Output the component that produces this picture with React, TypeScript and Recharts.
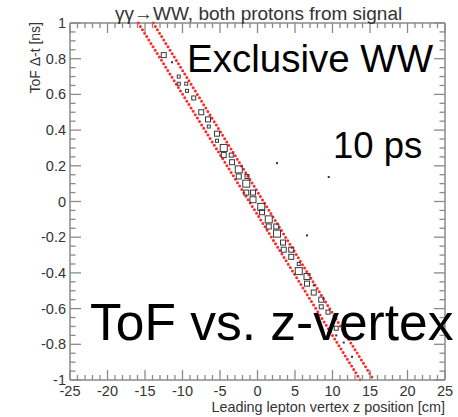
import { ScatterChart, Scatter, XAxis, YAxis, ReferenceLine } from "recharts";

// plot frame (pixels) – used for the ROOT-style inner ticks
const PL = 70;
const PR = 445;
const PT = 23;
const PB = 380;

const FONT = "'Liberation Sans', Arial, Helvetica, sans-serif";
const AXIS = "#8a8a8a";

// box histogram bins: z position [cm], ToF dt [ns], relative bin content
const binZ = [
  -12.5, -10.5, -10.5, -9.5, -9.4, -8.5, -7.5, -6.6, -6.5, -5.4, -5.4, -4.5, -4.5,
  -3.5, -3.4, -2.5, -2.5, -1.4, -1.5, -1.5, -0.6, -0.6, 0.5, 0.6, 1.5, 1.5, 2.5,
  2.6, 3.4, 3.5, 4.5, 4.5, 5.5, 5.5, 6.6, 6.6, 7.5, 8.5, 8.5, 9.4, 10.5,
];
const binT = [
  0.82, 0.7, 0.66, 0.66, 0.62, 0.58, 0.5, 0.46, 0.42, 0.38, 0.34, 0.3, 0.26,
  0.26, 0.22, 0.18, 0.14, 0.14, 0.1, 0.05, 0.05, 0.01, -0.03, -0.06, -0.1, -0.14,
  -0.14, -0.18, -0.23, -0.27, -0.27, -0.31, -0.35, -0.39, -0.42, -0.46, -0.51,
  -0.55, -0.59, -0.62, -0.71,
];
const binN = [
  2, 1, 1, 1, 1, 1.5, 2, 2, 1, 2, 1, 3, 2, 1.5, 2, 3, 2, 1.5, 3, 2, 2, 2.5, 3, 2,
  3, 2, 2, 3, 2, 2, 2, 2, 1, 3, 2.5, 2, 2, 2, 1.5, 1.5, 1.5,
];

// single-entry bins (drawn as dots)
const dotZ = [-11.4, 7.5, 10.5, 11.5, 12.6, 2.6, 9.5, 6.6];
const dotT = [0.78, -0.47, -0.75, -0.79, -0.87, 0.215, 0.137, -0.19];

// 10 ps acceptance band edges
const bandLow = [
  { x: -15.9, y: 1 },
  { x: 13.7, y: -1 },
];
const bandHigh = [
  { x: -13.9, y: 1 },
  { x: 15.5, y: -1 },
];

const xTicks: number[] = [];
for (let i = -25; i <= 25; i++) xTicks.push(i);
const yTicks: number[] = [];
for (let i = -20; i <= 20; i++) yTicks.push(i / 20);

const boxes = binZ.map((z, i) => ({ z, t: binT[i], n: binN[i] }));
const dots = dotZ.map((z, i) => ({ z, t: dotT[i] }));

const isMajor = (v: number, step: number) =>
  Math.abs(v / step - Math.round(v / step)) < 1e-6;

function XTick(props: any) {
  const { x, payload } = props;
  const v = payload.value;
  const major = isMajor(v, 5);
  const len = major ? 10 : 5;
  return (
    <g>
      <line x1={x} x2={x} y1={PB} y2={PB - len} stroke={AXIS} strokeWidth={1.3} />
      <line x1={x} x2={x} y1={PT} y2={PT + len} stroke={AXIS} strokeWidth={1.3} />
      {major && (
        <text
          x={x}
          y={PB + 16}
          textAnchor="middle"
          fontSize={14.5}
          fill="#333"
          fontFamily={FONT}
        >
          {v}
        </text>
      )}
    </g>
  );
}

function YTick(props: any) {
  const { y, payload } = props;
  const v = payload.value;
  const major = isMajor(v, 0.2);
  const len = major ? 11 : 5.5;
  return (
    <g>
      <line x1={PL} x2={PL + len} y1={y} y2={y} stroke={AXIS} strokeWidth={1.3} />
      <line x1={PR} x2={PR - len} y1={y} y2={y} stroke={AXIS} strokeWidth={1.3} />
      {major && (
        <text
          x={PL - 4}
          y={y + 5}
          textAnchor="end"
          fontSize={14.5}
          fill="#333"
          fontFamily={FONT}
        >
          {String(Math.round(v * 10) / 10)}
        </text>
      )}
    </g>
  );
}

function BoxShape(props: any) {
  const { cx, cy, payload } = props;
  const s = 2 * payload.n + 1;
  return (
    <rect
      x={cx - s / 2}
      y={cy - s / 2}
      width={s}
      height={s}
      fill="none"
      stroke="#3a3a3a"
      strokeWidth={1}
    />
  );
}

function DotShape(props: any) {
  const { cx, cy } = props;
  return <rect x={cx - 1} y={cy - 1} width={2} height={2} fill="#333" />;
}

export default function App() {
  return (
    <div
      style={{
        position: "absolute",
        left: 0,
        top: 0,
        width: 458,
        height: 417,
        background: "#fff",
      }}
    >
      <ScatterChart
        width={458}
        height={417}
        margin={{ top: PT, right: 458 - PR, bottom: 0, left: 0 }}
      >
        <XAxis
          type="number"
          dataKey="z"
          domain={[-25, 25]}
          ticks={xTicks}
          interval={0}
          height={417 - PB}
          tickLine={false}
          tickSize={0}
          axisLine={{ stroke: AXIS, strokeWidth: 1.5 }}
          tick={<XTick />}
          allowDataOverflow
        />
        <YAxis
          type="number"
          dataKey="t"
          domain={[-1, 1]}
          ticks={yTicks}
          interval={0}
          width={PL}
          tickLine={false}
          tickSize={0}
          axisLine={{ stroke: AXIS, strokeWidth: 1.5 }}
          tick={<YTick />}
          allowDataOverflow
        />
        <ReferenceLine y={1} stroke={AXIS} strokeWidth={1.5} />
        <ReferenceLine x={25} stroke={AXIS} strokeWidth={1.5} />
        <ReferenceLine
          segment={bandLow}
          stroke="#ff2a2a"
          strokeWidth={3}
          strokeDasharray="0 4"
          strokeLinecap="round"
        />
        <ReferenceLine
          segment={bandHigh}
          stroke="#ff2a2a"
          strokeWidth={3}
          strokeDasharray="0 4"
          strokeLinecap="round"
        />
        <Scatter data={boxes} shape={<BoxShape />} isAnimationActive={false} />
        <Scatter data={dots} shape={<DotShape />} isAnimationActive={false} />
      </ScatterChart>
      <svg
        width={458}
        height={417}
        style={{ position: "absolute", left: 0, top: 0, pointerEvents: "none" }}
        fontFamily={FONT}
      >
        <text x={115} y={20} fontSize={19} fill="#333">
          γγ→WW, both protons from signal
        </text>
        <text
          transform="rotate(-90)"
          x={-22}
          y={40}
          textAnchor="end"
          fontSize={14}
          fill="#333"
        >
          ToF Δ-t [ns]
        </text>
        <text x={PR} y={412} textAnchor="end" fontSize={14.4} fill="#333">
          Leading lepton vertex z position [cm]
        </text>
        <text x={187} y={72} fontSize={38.5} fill="#000">
          Exclusive WW
        </text>
        <text x={333} y={158} fontSize={36.5} fill="#000">
          10 ps
        </text>
        <text x={90} y={340} fontSize={51.5} fill="#000">
          ToF vs. z-vertex
        </text>
      </svg>
    </div>
  );
}
